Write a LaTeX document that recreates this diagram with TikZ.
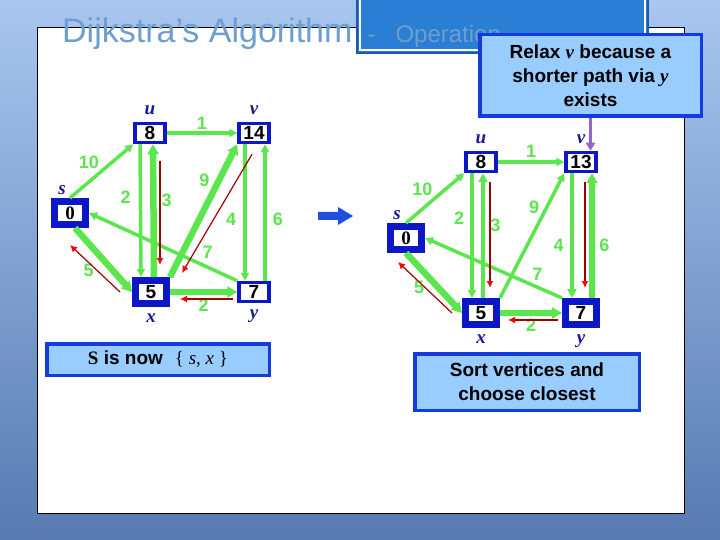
\documentclass[tikz,border=0pt]{standalone}
\usepackage{fontspec}
\setmainfont{Liberation Sans}
\newfontfamily\tmsfont{Liberation Serif}
\usepackage{xcolor}
\usepackage{tikz}
\usetikzlibrary{arrows.meta, positioning}

\definecolor{bgtop}{RGB}{168,198,238}
\definecolor{bgbot}{RGB}{88,122,178}
\definecolor{titleblue}{RGB}{108,158,208}
\definecolor{barblue}{RGB}{42,126,212}
\definecolor{baredge}{RGB}{30,90,170}
\definecolor{edgegreen}{RGB}{92,230,78}
\definecolor{vblue}{RGB}{12,24,200}
\definecolor{nameblue}{RGB}{24,24,150}
\definecolor{notefill}{RGB}{153,204,255}
\definecolor{noteline}{RGB}{20,60,220}
\definecolor{predred}{RGB}{160,0,0}
\definecolor{callpurple}{RGB}{150,100,200}
\definecolor{goblue}{RGB}{30,80,220}

\begin{document}
\begin{tikzpicture}[
    x=1pt, y=-1pt,
    vbox/.style={rectangle, draw=vblue, line width=3.5pt, fill=white, minimum width=30pt, minimum height=19pt, inner sep=0pt, font=\bfseries\fontsize{19}{19}\selectfont},
    srcbox/.style={vbox, line width=7pt, minimum width=31pt, minimum height=23pt},
    vname/.style={inner sep=0pt, text height=8pt, text depth=2pt, text=nameblue, font=\tmsfont\bfseries\itshape\fontsize{19}{19}\selectfont},
    elabel/.style={inner sep=1pt, text=edgegreen, font=\bfseries\fontsize{18}{18}\selectfont},
    gedge/.style={draw=edgegreen, line width=3.5pt, -{Triangle[length=8pt,width=8pt]}},
    gmedge/.style={gedge, line width=4.5pt, -{Triangle[length=9pt,width=9pt]}},
    gtedge/.style={gedge, line width=6.5pt, -{Triangle[length=10pt,width=11pt]}},
    pred/.style={draw=predred, line width=1.2pt, -{Latex[length=7pt,width=7pt,color=red]}},
    note/.style={rectangle, draw=noteline, line width=3.5pt, fill=notefill, align=center, inner sep=0pt, font=\bfseries\fontsize{19}{24}\selectfont}
]

\shade[top color=bgtop, bottom color=bgbot] (0,0) rectangle (720,540);
\useasboundingbox (0,0) rectangle (720,540);
\fill[white, draw=black, line width=0.8pt] (37,27) rectangle (684,513);
\fill[barblue, draw=baredge, line width=2pt] (357,-3) rectangle (648,53);
\draw[white, line width=1.5pt] (360,-3) |- (645,50) -- (645,-3);

\node[anchor=base west, inner sep=0pt, text=titleblue, font=\fontsize{34}{34}\selectfont] (title) at (62,43) {Dijkstra’s Algorithm\hspace{15pt}{\fontsize{24}{24}\selectfont -\hspace{20pt}Operation}};

\node (s0) [srcbox, font=\tmsfont\bfseries\fontsize{19}{19}\selectfont] at (70,213) {0};
\node (u0) [vbox] at (150,133) {8};
\node (v0) [vbox] at (254,133) {14};
\node (x0) [srcbox] at (151,292) {5};
\node (y0) [vbox] at (254,292) {7};

\node [vname, above=1pt of s0, xshift=-8pt] {s};
\node [vname, above=5pt of u0] {u};
\node [vname, above=5pt of v0] {v};
\node [vname, below=7pt of x0] {x};
\node [vname, below=7pt of y0] {y};

\draw [gedge] (s0.north) -- node[elabel, above left] {10} (u0.south west);
\draw [gedge] (u0.east) -- node[elabel, above=1pt] {1} (v0.west);
\draw [gedge] ([xshift=-10pt]u0.south) -- node[elabel, left=7pt, pos=.4] {2} ([xshift=-10pt]x0.north);
\draw [gtedge] ([xshift=3pt]x0.north) -- node[elabel, right=4pt, pos=.58] {3} ([xshift=3pt]u0.south);
\draw [gtedge] (x0.north east) -- node[elabel, above left, pos=.65] {9} (v0.south west);
\draw [gedge] ([xshift=-9pt]v0.south) -- node[elabel, left=6pt, pos=.55] {4} ([xshift=-9pt]y0.north);
\draw [gedge] ([xshift=11pt]y0.north) -- node[elabel, right=5pt, pos=.45] {6} ([xshift=11pt]v0.south);
\draw [gedge] (y0.north west) -- node[elabel, above=6pt, pos=.2] {7} (s0.east);
\draw [gtedge] ([xshift=5pt]s0.south) -- node[elabel, below left=4pt, pos=.45] {5} (x0.west);
\draw [gtedge] (x0.east) -- node[elabel, below=3pt] {2} (y0.west);

\draw [pred] ([shift={(10,17)}]u0.south) -- ([shift={(9,-12)}]x0.north);
\draw [pred] ([shift={(-2,10)}]v0.south) -- ([shift={(12,-4)}]x0.north east);
\draw [pred] ([shift={(-12,0)}]x0.west) -- ([shift={(0,17)}]s0.south);
\draw [pred] ([shift={(-4,7)}]y0.west) -- ([shift={(10,7)}]x0.east);

\fill[goblue] (318,212) -- (338,212) -- (338,207) -- (353,216) -- (338,225) -- (338,220) -- (318,220) -- cycle;

\node (s1) [srcbox, font=\tmsfont\bfseries\fontsize{19}{19}\selectfont] at (406,238) {0};
\node (u1) [vbox] at (481,162) {8};
\node (v1) [vbox] at (581,162) {13};
\node (x1) [srcbox] at (481,313) {5};
\node (y1) [srcbox] at (581,313) {7};

\node [vname, above=1pt of s1, xshift=-9pt] {s};
\node [vname, above=5pt of u1] {u};
\node [vname, above=5pt of v1] {v};
\node [vname, below=7pt of x1] {x};
\node [vname, below=7pt of y1] {y};

\draw [gedge] (s1.north) -- node[elabel, above left] {10} (u1.south west);
\draw [gedge] (u1.east) -- node[elabel, above=2pt] {1} (v1.west);
\draw [gedge] ([xshift=-9pt]u1.south) -- node[elabel, left=5pt, pos=.36] {2} ([xshift=-9pt]x1.north);
\draw [gmedge] ([xshift=2pt]x1.north) -- node[elabel, right=4pt, pos=.58] {3} ([xshift=2pt]u1.south);
\draw [gedge] (x1.north east) -- node[elabel, above left, pos=.65] {9} (v1.south west);
\draw [gmedge] ([xshift=-9pt]v1.south) -- node[elabel, left=5pt, pos=.58] {4} ([xshift=-9pt]y1.north);
\draw [gtedge] ([xshift=11pt]y1.north) -- node[elabel, right=3pt, pos=.42] {6} ([xshift=11pt]v1.south);
\draw [gedge] (y1.north west) -- node[elabel, above=4pt, pos=.18] {7} (s1.east);
\draw [gtedge] (s1.south) -- node[elabel, below left, pos=.4] {5} (x1.west);
\draw [gtedge] (x1.east) -- node[elabel, below=2pt] {2} (y1.west);

\draw [pred] ([shift={(9,9)}]u1.south) -- ([shift={(9,-10)}]x1.north);
\draw [pred] ([shift={(4,9)}]v1.south) -- ([shift={(4,-10)}]y1.north);
\draw [pred] ([shift={(-10,0)}]x1.west) -- ([shift={(-8,9)}]s1.south);
\draw [pred] ([shift={(-4,7)}]y1.west) -- ([shift={(8,7)}]x1.east);

\node (relax) [note, minimum width=221.5pt, minimum height=81.5pt] at (590.5,75.5) {Relax {\tmsfont\itshape v} because a\\shorter path via {\tmsfont\itshape y}\\exists};
\draw [callpurple, line width=3pt, -{Triangle[length=8pt,width=9pt]}] (relax.south) -- (relax.south |- v1.north);

\node (setS) [note, minimum width=222.5pt, minimum height=31.5pt] at (158,359.5) {{\tmsfont S} is now\hspace{12pt}{\tmsfont\mdseries\{ \textit{s}, \textit{x} \}}};
\node (sort) [note, minimum width=224.5pt, minimum height=56.5pt] at (527,382) {Sort vertices and\\choose closest};

\end{tikzpicture}
\end{document}
